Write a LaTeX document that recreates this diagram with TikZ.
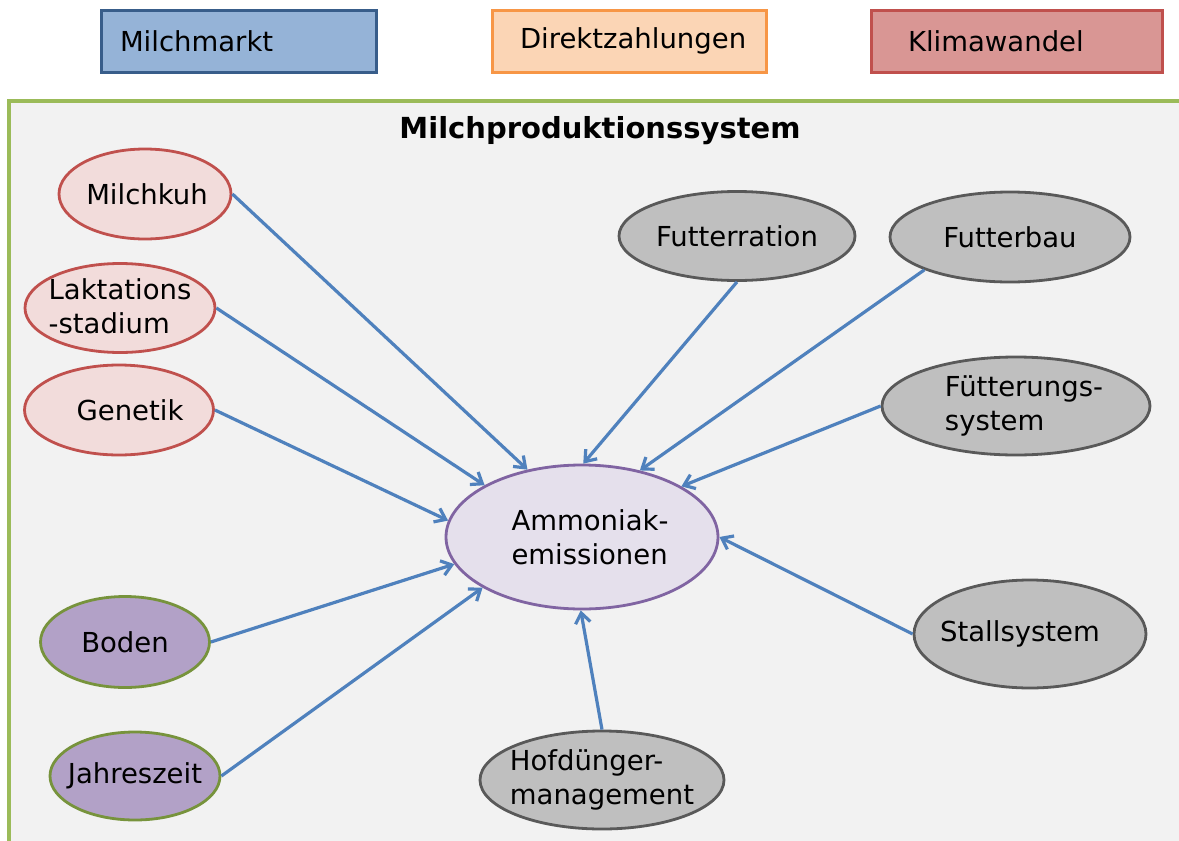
\documentclass[tikz,border=0pt]{standalone}
\usepackage{fontspec}
\setmainfont{DejaVu Sans}
\usetikzlibrary{shapes.geometric,arrows.meta}
\definecolor{mmfill}{HTML}{95B3D7}
\definecolor{mmdraw}{HTML}{385D8A}
\definecolor{dzfill}{HTML}{FBD5B5}
\definecolor{dzdraw}{HTML}{F79646}
\definecolor{kwfill}{HTML}{D99694}
\definecolor{kwdraw}{HTML}{C0504D}
\definecolor{framefill}{HTML}{F2F2F2}
\definecolor{framedraw}{HTML}{9BBB59}
\definecolor{pinkfill}{HTML}{F2DCDB}
\definecolor{pinkdraw}{HTML}{C0504D}
\definecolor{lilafill}{HTML}{B2A1C7}
\definecolor{liladraw}{HTML}{77933C}
\definecolor{grayfill}{HTML}{BFBFBF}
\definecolor{graydraw}{HTML}{595959}
\definecolor{centfill}{HTML}{E5E0EC}
\definecolor{centdraw}{HTML}{8064A2}
\definecolor{arrowblue}{HTML}{4F81BD}
\tikzset{
  txt/.style={font=\fontsize{27.5}{34}\selectfont},
  topbox/.style={txt, rectangle, line width=3pt, minimum height=62pt, align=left, inner ysep=0pt},
  ell/.style={ellipse, line width=2.8pt, inner sep=0pt},
  ltxt/.style={txt, align=left, inner sep=0pt},
  pinkell/.style={ell, fill=pinkfill, draw=pinkdraw},
  lilaell/.style={ell, fill=lilafill, draw=liladraw},
  grayell/.style={ell, fill=grayfill, draw=graydraw},
  centell/.style={ell, fill=centfill, draw=centdraw},
  conn/.style={draw=arrowblue, line width=3.2pt, -{Straight Barb[length=10pt,width=15pt]}},
}
\begin{document}
\begin{tikzpicture}[x=1pt,y=-1pt]
\clip (0,0) rectangle (1179,841);
\fill[white] (0,0) rectangle (1179,841);
% top boxes
\node[topbox, fill=mmfill, draw=mmdraw, minimum width=275pt, text width=237pt, inner xsep=19pt] (milchmarkt) at (238.5,41) {Milchmarkt};
\node[topbox, fill=dzfill, draw=dzdraw, minimum width=274pt, text width=218pt, inner xsep=28pt] (direkt) at (629,41) {Direktzahlungen};
\node[topbox, fill=kwfill, draw=kwdraw, minimum width=291pt, text width=217pt, inner xsep=37pt] (klima) at (1016.5,41) {Klimawandel};
% frame
\draw[fill=framefill, draw=framedraw, line width=3.5pt] (9,101) rectangle (1200,870);
\node[font=\fontsize{29}{34}\selectfont\bfseries] (title) at (600,131) {Milchproduktionssystem};
% ellipses
\node[pinkell, minimum width=172pt, minimum height=90pt,
  label={[ltxt, xshift=2pt]center:Milchkuh}] (milchkuh) at (145,194) {};
\node[pinkell, minimum width=190pt, minimum height=89pt,
  label={[ltxt, yshift=2pt]center:Laktations\\-stadium}] (laktation) at (120,308) {};
\node[pinkell, minimum width=189pt, minimum height=90pt,
  label={[ltxt, xshift=11pt]center:Genetik}] (genetik) at (119,410) {};
\node[lilaell, minimum width=169pt, minimum height=91pt,
  label={[ltxt]center:Boden}] (boden) at (125,642) {};
\node[lilaell, minimum width=170pt, minimum height=88pt,
  label={[ltxt]center:Jahreszeit}] (jahreszeit) at (135,776) {};
\node[centell, minimum width=272pt, minimum height=144pt,
  label={[ltxt, xshift=8pt]center:Ammoniak-\\emissionen}] (ammoniak) at (582,537) {};
\node[grayell, minimum width=236pt, minimum height=89pt,
  label={[ltxt]center:Futterration}] (futterration) at (737,236) {};
\node[grayell, minimum width=240pt, minimum height=90pt,
  label={[ltxt]center:Futterbau}] (futterbau) at (1010,237) {};
\node[grayell, minimum width=268pt, minimum height=98pt,
  label={[ltxt, xshift=8pt]center:Fütterungs-\\system}] (fuetterung) at (1016,406) {};
\node[grayell, minimum width=232pt, minimum height=108pt,
  label={[ltxt, xshift=-10pt]center:Stallsystem}] (stall) at (1030,634) {};
\node[grayell, minimum width=244pt, minimum height=98pt,
  label={[ltxt]center:Hofdünger-\\management}] (hofduenger) at (602,780) {};
% connectors
\draw[conn] (milchkuh.east) -- (ammoniak.129);
\draw[conn] (laktation.east) -- (ammoniak.152);
\draw[conn] (genetik.east) -- (ammoniak.173);
\draw[conn] (futterration.south) -- (ammoniak.89);
\draw[conn] (futterbau.201) -- (ammoniak.49);
\draw[conn] (fuetterung.west) -- (ammoniak.27);
\draw[conn] (stall.west) -- (ammoniak.0);
\draw[conn] (boden.east) -- (ammoniak.192);
\draw[conn] (jahreszeit.east) -- (ammoniak.207);
\draw[conn] (hofduenger.north) -- (ammoniak.269);
\end{tikzpicture}
\end{document}
